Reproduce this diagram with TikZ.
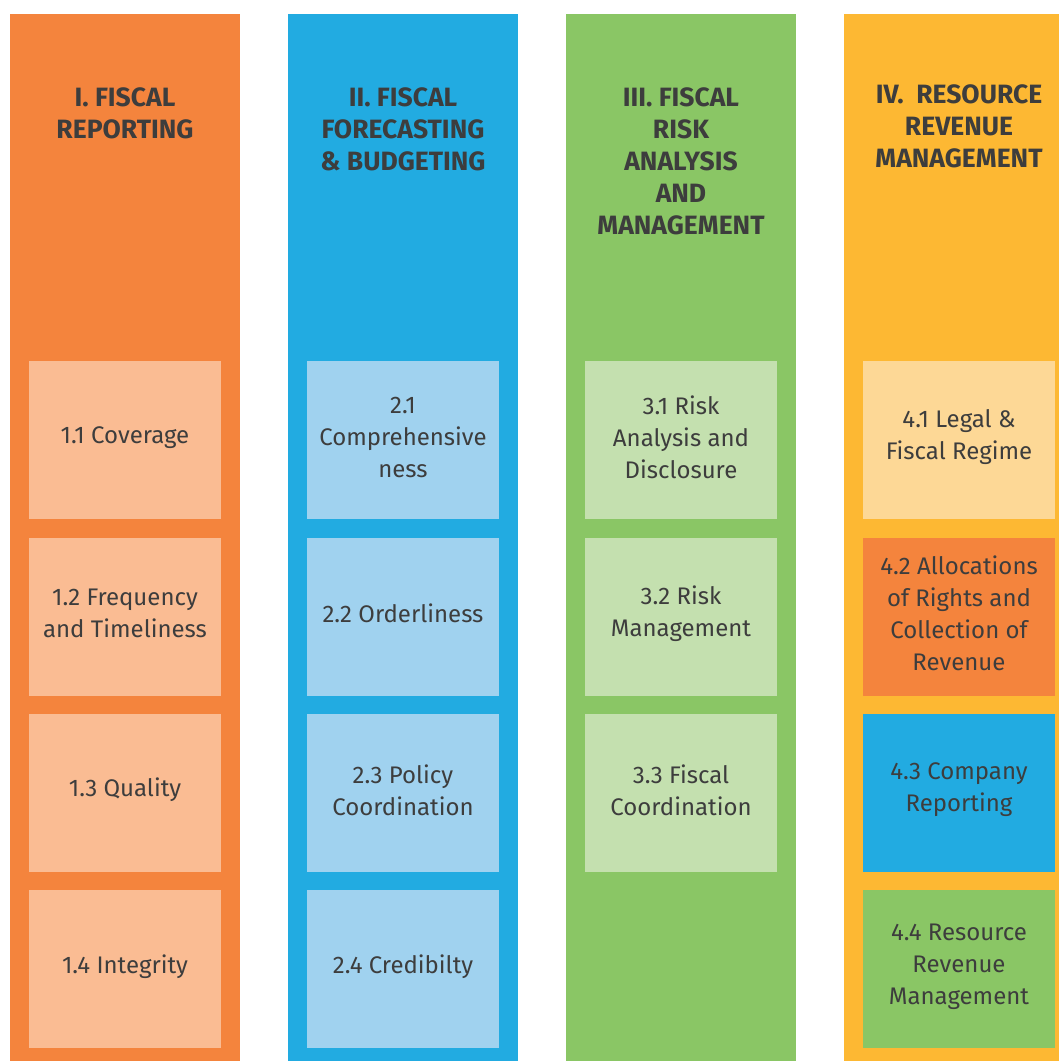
\documentclass[tikz,border=0pt]{standalone}
\usepackage{fontspec}
\setmainfont{Fira Sans}
\usetikzlibrary{positioning}
\definecolor{txtgrey}{RGB}{61,61,61}
\definecolor{porange}{RGB}{244,132,61}
\definecolor{porangesoft}{RGB}{250,188,147}
\definecolor{pblue}{RGB}{34,171,225}
\definecolor{pbluesoft}{RGB}{160,210,239}
\definecolor{pgreen}{RGB}{138,198,101}
\definecolor{pgreensoft}{RGB}{196,224,175}
\definecolor{pyellow}{RGB}{253,184,51}
\definecolor{pyellowsoft}{RGB}{253,216,150}
\tikzset{
  pillar/.style={rectangle, inner sep=0pt, minimum width=230pt, minimum height=1047pt, anchor=north},
  pilhead/.style={anchor=north, align=center, text=txtgrey,
                  font=\fontsize{26.5}{32}\selectfont\bfseries},
  subbox/.style={rectangle, inner sep=0pt, minimum width=192pt, minimum height=158pt,
                 anchor=north, align=center, text=txtgrey,
                 font=\fontsize{24}{32}\selectfont},
  subtxt/.style={align=center, text=txtgrey, font=\fontsize{24}{32}\selectfont},
}
\begin{document}
\begin{tikzpicture}[x=1pt,y=-1pt]
  \useasboundingbox (0,0) rectangle (1059,1061);
  \clip (0,0) rectangle (1059,1061);
  % vier pijlers
  \node[pillar, fill=porange] (pil1) at (125,14) {};
  \node[pillar, fill=pblue]   (pil2) at (403,14) {};
  \node[pillar, fill=pgreen]  (pil3) at (681,14) {};
  \node[pillar, fill=pyellow] (pil4) at (959,14) {};
  % koppen
  \node[pilhead] (head1) at (125,84) {I. FISCAL\\REPORTING};
  \node[pilhead] (head2) at (403,84) {II. FISCAL\\FORECASTING\\\& BUDGETING};
  \node[pilhead] (head3) at (681,84) {III. FISCAL\\RISK\\ANALYSIS\\AND\\MANAGEMENT};
  \node[pilhead] (head4) at (959,81) {IV.\ \ RESOURCE\\REVENUE\\MANAGEMENT};
  % pijler 1
  \node[subbox, fill=porangesoft] (b11) at (125,361) {};
  \node[subbox, fill=porangesoft, below=18pt of b11] (b12) {};
  \node[subbox, fill=porangesoft, below=18pt of b12] (b13) {};
  \node[subbox, fill=porangesoft, below=18pt of b13] (b14) {};
  % pijler 2
  \node[subbox, fill=pbluesoft] (b21) at (403,361) {};
  \node[subbox, fill=pbluesoft, below=18pt of b21] (b22) {};
  \node[subbox, fill=pbluesoft, below=18pt of b22] (b23) {};
  \node[subbox, fill=pbluesoft, below=18pt of b23] (b24) {};
  % pijler 3
  \node[subbox, fill=pgreensoft] (b31) at (681,361) {};
  \node[subbox, fill=pgreensoft, below=18pt of b31] (b32) {};
  \node[subbox, fill=pgreensoft, below=18pt of b32] (b33) {};
  % pijler 4
  \node[subbox, fill=pyellowsoft] (b41) at (959,361) {};
  \node[subbox, fill=porange, below=18pt of b41] (b42) {};
  \node[subbox, fill=pblue, below=18pt of b42] (b43) {};
  \node[subbox, fill=pgreen, below=18pt of b43] (b44) {};
  % teksten, iets boven het midden
  \foreach \b/\t in {b11/{1.1 Coverage}, b12/{1.2 Frequency\\and Timeliness},
                     b13/{1.3 Quality}, b14/{1.4 Integrity},
                     b21/{2.1\\Comprehensive\\ness}, b22/{2.2 Orderliness},
                     b23/{2.3 Policy\\Coordination}, b24/{2.4 Credibilty},
                     b31/{3.1 Risk\\Analysis and\\Disclosure}, b32/{3.2 Risk\\Management},
                     b33/{3.3 Fiscal\\Coordination},
                     b41/{4.1 Legal \&\\Fiscal Regime},
                     b42/{4.2 Allocations\\of Rights and\\Collection of\\Revenue},
                     b43/{4.3 Company\\Reporting}, b44/{4.4 Resource\\Revenue\\Management}}
    \node[subtxt] (\b t) at ([yshift=3pt]\b.center) {\t};
\end{tikzpicture}
\end{document}
